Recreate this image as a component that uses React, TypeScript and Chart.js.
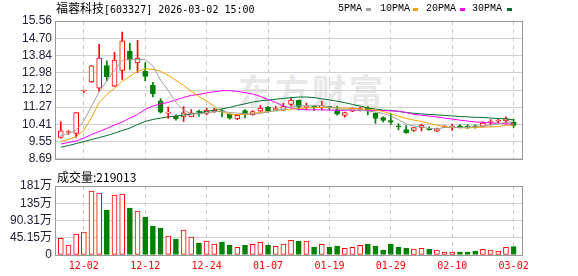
import React, { useEffect, useRef } from 'react';
import { Chart, registerables } from 'chart.js';

Chart.register(...registerables);

// ---- data ----
const dates = [
  '11-27', '11-28', '12-01', '12-02', '12-03', '12-04', '12-05', '12-08', '12-09', '12-10',
  '12-11', '12-12', '12-15', '12-16', '12-17', '12-18', '12-19', '12-22', '12-23', '12-24',
  '12-25', '12-26', '12-29', '12-30', '12-31', '01-05', '01-06', '01-07', '01-08', '01-09',
  '01-12', '01-13', '01-14', '01-15', '01-16', '01-19', '01-20', '01-21', '01-22', '01-23',
  '01-26', '01-27', '01-28', '01-29', '01-30', '02-02', '02-03', '02-04', '02-05', '02-06',
  '02-09', '02-10', '02-11', '02-12', '02-13', '02-24', '02-25', '02-26', '02-27', '03-02',
];
const labelDates = ['12-02', '12-12', '12-24', '01-07', '01-19', '01-29', '02-10', '03-02'];

const opens = [
  9.76, 10.0, 9.95, 12.07, 12.52, 12.21, 13.34, 12.31, 13.09, 14.06,
  13.47, 13.05, 12.35, 11.58, 10.97, 10.81, 10.78, 10.78, 11.05, 10.95,
  11.03, 11.08, 10.92, 10.68, 11.1, 10.89, 11.07, 11.25, 11.14, 11.13,
  11.4, 11.6, 11.25, 11.27, 11.28, 11.27, 11.13, 10.85, 11.06, 11.15,
  11.2, 10.97, 10.74, 10.6, 10.31, 10.15, 10.11, 10.25, 10.21, 10.07,
  10.26, 10.26, 10.31, 10.3, 10.3, 10.3, 10.5, 10.56, 10.58, 10.52,
];
const highs = [
  10.53, 10.1, 11.0, 12.12, 13.35, 14.4, 13.58, 14.0, 15.01, 14.45,
  14.6, 13.47, 12.5, 11.69, 11.27, 10.88, 11.29, 11.15, 11.12, 11.2,
  11.2, 11.15, 10.93, 10.88, 11.14, 11.1, 11.34, 11.3, 11.3, 11.45,
  11.72, 11.62, 11.47, 11.34, 11.55, 11.32, 11.3, 11.02, 11.23, 11.25,
  11.29, 10.98, 10.78, 10.94, 10.45, 10.34, 10.26, 10.42, 10.28, 10.22,
  10.34, 10.42, 10.4, 10.38, 10.38, 10.53, 10.65, 10.7, 10.78, 10.66,
];
const lows = [
  9.72, 9.9, 9.76, 12.0, 12.5, 12.05, 12.58, 12.3, 12.65, 13.15,
  13.0, 12.58, 11.77, 10.97, 10.7, 10.62, 10.55, 10.78, 10.82, 10.88,
  11.0, 10.78, 10.66, 10.64, 10.73, 10.86, 11.05, 11.0, 11.1, 11.1,
  11.34, 11.13, 11.13, 11.1, 11.13, 11.15, 10.86, 10.76, 11.04, 11.08,
  10.88, 10.46, 10.53, 10.4, 10.13, 9.97, 10.05, 10.08, 10.12, 10.04,
  10.24, 10.11, 10.23, 10.21, 10.22, 10.28, 10.38, 10.46, 10.46, 10.26,
];
const closes = [
  10.08, 10.02, 10.99, 12.09, 13.33, 13.71, 12.78, 13.61, 14.57, 13.61,
  13.71, 12.8, 11.93, 11.02, 11.0, 10.68, 10.98, 10.98, 11.02, 11.12,
  11.12, 11.04, 10.72, 10.86, 10.92, 11.05, 11.22, 11.08, 11.17, 11.29,
  11.62, 11.29, 11.27, 11.25, 11.31, 11.25, 10.91, 11.0, 11.2, 11.18,
  11.08, 10.7, 10.6, 10.52, 10.29, 9.98, 10.25, 10.37, 10.13, 10.18,
  10.32, 10.28, 10.29, 10.27, 10.28, 10.47, 10.53, 10.59, 10.7, 10.35,
];
const volumes = [
  437000, 262000, 550000, 602000, 1676000, 1623000, 1178000, 1570000, 1597000, 1230000,
  1152000, 995000, 759000, 707000, 497000, 419000, 655000, 471000, 314000, 367000,
  288000, 340000, 262000, 201000, 253000, 280000, 332000, 262000, 227000, 288000,
  384000, 367000, 367000, 209000, 279000, 209000, 236000, 175000, 201000, 253000,
  288000, 236000, 131000, 288000, 209000, 183000, 157000, 175000, 157000, 131000,
  79000, 79000, 79000, 79000, 105000, 148000, 131000, 105000, 201000, 219013,
];
const ma5 = [
  9.85, 9.95, 10.12, 10.58, 11.3, 12.03, 12.58, 13.1, 13.6, 13.64,
  13.64, 13.64, 13.32, 12.61, 12.09, 11.49, 11.12, 10.93, 10.93, 10.96,
  11.04, 11.06, 11.0, 10.97, 10.93, 10.92, 10.95, 11.03, 11.09, 11.16,
  11.3, 11.33, 11.33, 11.34, 11.35, 11.27, 11.2, 11.14, 11.13, 11.11,
  11.07, 11.03, 10.95, 10.82, 10.64, 10.42, 10.33, 10.28, 10.2, 10.18,
  10.25, 10.26, 10.24, 10.27, 10.29, 10.32, 10.37, 10.43, 10.51, 10.53,
];
const ma10 = [
  9.55, 9.65, 9.8, 10.1, 10.75, 11.5, 11.9, 12.2, 12.55, 12.8,
  13.05, 13.17, 13.15, 13.05, 12.85, 12.6, 12.35, 12.05, 11.8, 11.58,
  11.3, 11.02, 10.92, 10.89, 10.9, 10.95, 11.0, 11.05, 11.08, 11.12,
  11.16, 11.2, 11.23, 11.24, 11.25, 11.24, 11.23, 11.22, 11.2, 11.18,
  11.16, 11.12, 11.05, 10.94, 10.82, 10.7, 10.62, 10.55, 10.45, 10.37,
  10.3, 10.26, 10.24, 10.23, 10.25, 10.27, 10.28, 10.3, 10.35, 10.38,
];
const ma20 = [
  9.43, 9.5, 9.58, 9.72, 9.9, 10.05, 10.2, 10.38, 10.52, 10.72,
  10.9, 11.15, 11.32, 11.42, 11.5, 11.62, 11.75, 11.85, 11.9, 11.98,
  12.03, 12.08, 12.09, 12.05, 11.99, 11.92, 11.8, 11.65, 11.5, 11.32,
  11.22, 11.16, 11.13, 11.13, 11.13, 11.12, 11.11, 11.11, 11.11, 11.1,
  11.1, 11.1, 11.1, 11.08, 11.06, 11.0, 10.9, 10.86, 10.82, 10.78,
  10.72, 10.67, 10.62, 10.57, 10.53, 10.51, 10.48, 10.46, 10.43, 10.42,
];
const ma30 = [
  9.27, 9.35, 9.45, 9.55, 9.65, 9.75, 9.85, 9.97, 10.1, 10.22,
  10.4, 10.55, 10.65, 10.72, 10.78, 10.82, 10.87, 10.92, 10.98, 11.05,
  11.12, 11.18, 11.25, 11.35, 11.43, 11.52, 11.58, 11.62, 11.66, 11.7,
  11.74, 11.77, 11.77, 11.74, 11.68, 11.63, 11.56, 11.49, 11.4, 11.32,
  11.22, 11.17, 11.12, 11.1, 11.05, 11.0, 10.96, 10.93, 10.9, 10.88,
  10.85, 10.83, 10.8, 10.78, 10.76, 10.75, 10.72, 10.7, 10.68, 10.63,
];
const priceTicks = [8.69, 9.55, 10.41, 11.27, 12.12, 12.98, 13.84, 14.7, 15.56];
const priceTickLabels = ['8.69', '9.55', '10.41', '11.27', '12.12', '12.98', '13.84', '14.70', '15.56'];
const volTicks = [0, 451550, 903100, 1354650, 1806200];
const volTickLabels = ['0', '45.15万', '90.31万', '135万', '181万'];

// ---- styles ----
const RED = '#ff0000';
const GREEN = '#008000';
const MA_COLORS = ['#a0a0a0', '#f5a200', '#ff00ff', '#007030'];
const AXIS_TEXT = '#20203a';
const X_MIN = -0.625;
const X_MAX = 60.09;

const boxPlugin = {
  id: 'box',
  beforeDatasetsDraw(chart: any) {
    const { ctx, chartArea: a } = chart;
    ctx.save();
    ctx.strokeStyle = '#999999';
    ctx.lineWidth = 1;
    ctx.strokeRect(Math.round(a.left) - 0.5, Math.round(a.top) + 0.5, Math.round(a.right - a.left) + 1, Math.round(a.bottom - a.top));
    ctx.restore();
  },
};

function xAxis(showTicks: boolean, height: number) {
  return {
    type: 'linear',
    min: X_MIN,
    max: X_MAX,
    offset: false,
    afterBuildTicks: (ax: any) => {
      ax.ticks = labelDates.map((d) => ({ value: dates.indexOf(d) }));
    },
    afterFit: (s: any) => {
      s.height = height;
    },
    grid: { color: '#c8c8c8', lineWidth: 1, drawTicks: false, offset: false },
    border: { display: false, dash: [4, 4] },
    ticks: {
      display: showTicks,
      autoSkip: false,
      maxRotation: 0,
      padding: 5,
      color: RED,
      font: { family: "'DejaVu Sans Mono', monospace", size: 10 },
      callback: (v: any) => dates[Math.round(v)],
    },
  };
}

function yAxis(min: number, max: number, ticks: number[], labels: string[]) {
  return {
    type: 'linear',
    min,
    max,
    afterBuildTicks: (ax: any) => {
      ax.ticks = ticks.map((v) => ({ value: v }));
    },
    afterFit: (s: any) => {
      s.width = 56;
    },
    grid: { color: '#d0d0d0', lineWidth: 1, drawTicks: false },
    border: { display: false },
    ticks: {
      autoSkip: false,
      padding: 4,
      color: AXIS_TEXT,
      font: { family: "'Liberation Sans', 'Noto Sans CJK SC', sans-serif", size: 12 },
      callback: (_v: any, i: number) => labels[i],
    },
  };
}

export default function App() {
  const pRef = useRef<HTMLCanvasElement>(null);
  const vRef = useRef<HTMLCanvasElement>(null);

  useEffect(() => {
    const idx = dates.map((_, i) => i);
    const up = idx.map((i) => closes[i] >= opens[i]);
    const edge = idx.map((i) => (up[i] ? RED : GREEN));
    const fill = idx.map((i) => (up[i] ? '#ffffff' : GREEN));
    const maLine = (vals: number[], color: string) => ({
      type: 'line',
      data: idx.map((i) => ({ x: i, y: vals[i] })),
      borderColor: color,
      borderWidth: 1,
      pointRadius: 0,
      tension: 0,
      order: 0,
    });

    const priceChart = new Chart(pRef.current!, {
      type: 'bar',
      data: {
        datasets: [
          {
            type: 'bar',
            data: idx.map((i) => ({ x: i, y: [lows[i], highs[i]] })),
            backgroundColor: edge,
            barThickness: 1,
            grouped: false,
            order: 3,
          },
          {
            type: 'bar',
            data: idx.map((i) => ({ x: i, y: [Math.min(opens[i], closes[i]), Math.max(opens[i], closes[i])] })),
            backgroundColor: fill,
            borderColor: edge,
            borderWidth: 1,
            borderSkipped: false,
            barThickness: 5,
            minBarLength: 1,
            grouped: false,
            order: 2,
          },
          maLine(ma5, MA_COLORS[0]),
          maLine(ma10, MA_COLORS[1]),
          maLine(ma20, MA_COLORS[2]),
          maLine(ma30, MA_COLORS[3]),
        ] as any,
      },
      options: {
        animation: false,
        responsive: false,
        devicePixelRatio: 1,
        layout: { padding: { left: 0, right: 56, top: 21, bottom: 5 } },
        plugins: { legend: { display: false }, tooltip: { enabled: false } },
        scales: {
          x: xAxis(false, 0) as any,
          y: yAxis(8.69, 15.56, priceTicks, priceTickLabels) as any,
        },
      },
      plugins: [boxPlugin],
    });

    const volChart = new Chart(vRef.current!, {
      type: 'bar',
      data: {
        datasets: [
          {
            data: idx.map((i) => ({ x: i, y: volumes[i] })),
            backgroundColor: fill,
            borderColor: edge,
            borderWidth: 1,
            borderSkipped: false,
            barThickness: 5,
            grouped: false,
          },
        ] as any,
      },
      options: {
        animation: false,
        responsive: false,
        devicePixelRatio: 1,
        layout: { padding: { left: 0, right: 56, top: 16, bottom: 0 } },
        plugins: { legend: { display: false }, tooltip: { enabled: false } },
        scales: {
          x: xAxis(true, 21) as any,
          y: yAxis(0, 1806200, volTicks, volTickLabels) as any,
        },
      },
      plugins: [boxPlugin],
    });

    return () => {
      priceChart.destroy();
      volChart.destroy();
    };
  }, []);

  const legend = [
    { t: '5PMA', x: 338, sx: 366, c: MA_COLORS[0] },
    { t: '10PMA', x: 380, sx: 413, c: MA_COLORS[1] },
    { t: '20PMA', x: 426, sx: 460, c: MA_COLORS[2] },
    { t: '30PMA', x: 472, sx: 507, c: MA_COLORS[3] },
  ];

  return (
    <div style={{ position: 'absolute', left: 0, top: 0, width: 578, height: 276, background: '#fff', overflow: 'hidden' }}>
      <div
        style={{
          position: 'absolute', left: 238, top: 72, fontFamily: "'Noto Sans CJK SC'", fontWeight: 700,
          fontSize: 34, lineHeight: '36px', letterSpacing: 3, color: '#e8e8e8', whiteSpace: 'nowrap',
        }}
      >
        东方财富
      </div>
      <canvas ref={pRef} width={578} height={170} style={{ position: 'absolute', left: 0, top: 0 }} />
      <canvas ref={vRef} width={578} height={106} style={{ position: 'absolute', left: 0, top: 170 }} />
      <div style={{ position: 'absolute', left: 56, top: 2, height: 12, lineHeight: '12px', whiteSpace: 'nowrap', color: '#000' }}>
        <span style={{ fontFamily: "'Noto Sans CJK SC'", fontSize: 12 }}>福蓉科技</span>
        <span style={{ fontFamily: "'DejaVu Sans Mono'", fontSize: 10 }}>[603327] 2026-03-02 15:00</span>
      </div>
      {legend.map((l) => (
        <React.Fragment key={l.t}>
          <div style={{ position: 'absolute', left: l.x, top: 3, fontFamily: "'Liberation Mono'", fontSize: 10, lineHeight: '12px', color: '#000', whiteSpace: 'nowrap' }}>
            {l.t}
          </div>
          <div style={{ position: 'absolute', left: l.sx, top: 8, width: 5, height: 3, background: l.c }} />
        </React.Fragment>
      ))}
      <div style={{ position: 'absolute', left: 57, top: 171, fontFamily: "'Noto Sans CJK SC'", fontSize: 12, lineHeight: '12px', color: '#000', whiteSpace: 'nowrap' }}>
        成交量:219013
      </div>
    </div>
  );
}
